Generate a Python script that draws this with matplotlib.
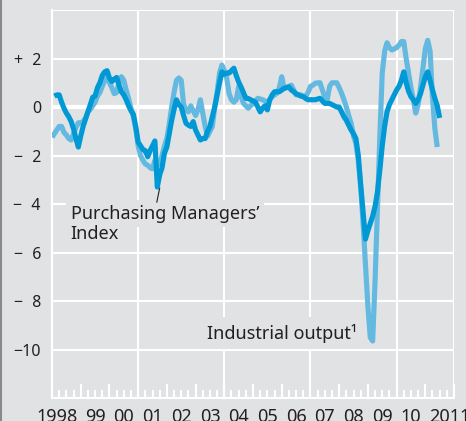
import numpy as np
import matplotlib
matplotlib.use("Agg")
import matplotlib.pyplot as plt
from matplotlib.lines import Line2D
from matplotlib.ticker import MultipleLocator

plt.rcParams['font.family'] = ['Noto Sans', 'DejaVu Sans']

# monthly data, Purchasing Managers' Index starts Feb 1998, industrial output Jan 1998
pmi_start = 1998 + 1 / 12
pmi = [0.45, 0.5, 0.5, 0.2, -0.05, -0.25, -0.4, -0.6, -0.9, -1.3, -1.65,
       -1.2, -0.8, -0.5, -0.2, 0.1, 0.4, 0.45, 0.8, 1.0, 1.3, 1.45, 1.5,
       1.2, 1.05, 1.15, 1.22, 0.9, 0.63, 0.5, 0.3, 0.05, -0.15, -0.3, -0.8,
       -1.45, -1.6, -1.75, -1.8, -2.05, -1.8, -1.6, -1.4, -3.3, -2.8, -2.5, -1.9,
       -1.65, -1.1, -0.55, -0.1, 0.3, 0.1, 0.0, -0.35, -0.67, -0.75, -0.8, -0.6,
       -0.95, -1.15, -1.36, -1.3, -1.3, -1.0, -0.8, -0.4, 0.0, 0.5, 1.0, 1.45,
       1.35, 1.4, 1.4, 1.5, 1.6, 1.3, 1.03, 0.83, 0.6, 0.36, 0.35, 0.3,
       0.25, 0.2, 0.0, -0.2, -0.05, 0.05, -0.12, 0.3, 0.5, 0.63, 0.63, 0.63,
       0.7, 0.77, 0.8, 0.83, 0.7, 0.63, 0.55, 0.5, 0.45, 0.43, 0.35, 0.3,
       0.3, 0.3, 0.3, 0.33, 0.36, 0.25, 0.15, 0.15, 0.15, 0.1, 0.05, 0.0,
       0.0, -0.2, -0.4, -0.55, -0.75, -0.95, -1.1, -1.3, -2.0, -3.2, -4.3, -5.45,
       -5.1, -4.8, -4.5, -4.1, -3.5, -2.6, -1.6, -0.8, -0.2, 0.1, 0.3, 0.5,
       0.7, 0.85, 1.1, 1.45, 1.0, 0.65, 0.43, 0.3, 0.15, 0.3, 0.55, 0.9,
       1.25, 1.45, 1.1, 0.7, 0.35, 0.05, -0.45]

ip_start = 1998.0
ip = [-1.25, -1.1, -0.95, -0.8, -0.8, -1.05, -1.15, -1.3, -1.36, -1.1, -0.85, -0.65,
      -0.65, -0.6, -0.45, -0.2, -0.1, 0.05, 0.2, 0.45, 0.6, 0.85, 1.1, 1.25,
      1.0, 0.8, 0.55, 0.6, 1.0, 1.25, 1.1, 0.7, 0.35, -0.05, -0.4, -0.9,
      -1.6, -2.0, -2.2, -2.35, -2.4, -2.5, -2.55, -2.2, -2.4, -2.3, -2.0, -1.6,
      -1.3, -0.7, 0.0, 0.6, 1.1, 1.2, 1.1, 0.1, -0.1, -0.2, 0.05, -0.15,
      -0.35, -0.1, 0.3, -0.25, -0.8, -1.2, -1.0, -0.8, 0.0, 0.6, 1.4, 1.73,
      1.5, 1.2, 0.55, 0.3, 0.2, 0.3, 0.85, 0.45, 0.15, 0.05, -0.05, 0.05,
      0.15, 0.25, 0.36, 0.33, 0.3, 0.25, 0.2, 0.3, 0.43, 0.5, 0.57, 0.8,
      1.25, 0.77, 0.8, 0.85, 0.9, 0.7, 0.5, 0.5, 0.5, 0.45, 0.43, 0.6,
      0.85, 0.9, 0.98, 1.0, 1.0, 0.7, 0.4, 0.3, 0.85, 1.0, 1.0, 1.0,
      0.8, 0.57, 0.3, 0.0, -0.35, -0.67, -1.2, -1.5, -2.2, -3.3, -4.8, -6.5,
      -8.2, -9.5, -9.65, -7.2, -4.2, -1.2, 1.4, 2.3, 2.65, 2.45, 2.35, 2.4,
      2.45, 2.55, 2.7, 2.7, 2.0, 1.4, 0.8, 0.3, -0.25, 0.1, 0.8, 1.6,
      2.4, 2.75, 2.3, 0.4, -0.9, -1.65]

yticks = [2, 0, -2, -4, -6, -8, -10]
ytick_labels = ['+\u20072', '0', '\u2212\u20072', '\u2212\u20074', '\u2212\u20076',
                '\u2212\u20078', '\u221210']
years = ['1998', '99', '00', '01', '02', '03', '04', '05', '06', '07', '08', '09', '10', '2011']

bg = '#e1e2e4'
light = '#64b9e0'
dark = '#0099d5'
txt = '#231f20'

fig = plt.figure(figsize=(4.66, 4.21), dpi=100, facecolor=bg)
ax = fig.add_axes([0.1116, 0.0546, 0.8627, 0.9216], facecolor=bg)
ax.set_xlim(1998, 2012)
ax.set_ylim(-12, 4)

# grid
for y in [-10, -8, -6, -4, -2, 2, 4]:
    ax.axhline(y, color='white', lw=1.5, zorder=1)
ax.axhline(0, color='white', lw=3, zorder=1)
for x in [2001, 2004, 2007, 2010, 2012]:
    ax.axvline(x, color='white', lw=1.5, zorder=1)

for s in ['top', 'right']:
    ax.spines[s].set_visible(False)
ax.spines['left'].set_color('white')
ax.spines['left'].set_linewidth(1.5)
ax.spines['bottom'].set_color('white')
ax.spines['bottom'].set_linewidth(1.5)

ax.xaxis.set_major_locator(MultipleLocator(1))
ax.xaxis.set_minor_locator(MultipleLocator(0.25))
ax.tick_params(axis='x', which='major', direction='in', length=10, width=1.5,
               color='white', labelbottom=False)
ax.tick_params(axis='x', which='minor', direction='in', length=6, width=1.5,
               color='white')
ax.set_yticks(yticks)
ax.set_yticklabels(ytick_labels)
ax.tick_params(axis='y', length=0, pad=8, labelsize=11.5, labelcolor=txt)

xt = ax.get_xaxis_transform()
for i, lab in enumerate(years):
    if i == 0:
        x, ha = 1998.9, 'right'
    elif i == len(years) - 1:
        x, ha = 2011.15, 'left'
    else:
        x, ha = 1998 + i + 0.5, 'center'
    ax.text(x, -0.027, lab, transform=xt, ha=ha, va='top',
            fontsize=13, color=txt, clip_on=False)

t_ip = ip_start + np.arange(len(ip)) / 12
t_pmi = pmi_start + np.arange(len(pmi)) / 12
ax.plot(t_ip, ip, color=light, lw=3.7, solid_joinstyle='round',
        solid_capstyle='butt', zorder=4)
ax.plot(t_pmi, pmi, color=dark, lw=3.7, solid_joinstyle='round',
        solid_capstyle='butt', zorder=5)

# labels
box = dict(boxstyle='square,pad=0.25', fc=bg, ec='none')
ax.text(1998.65, -4.41, 'Purchasing Managers\u2019', fontsize=13, color=txt,
        va='center', ha='left', bbox=box, zorder=3)
ax.text(1998.65, -5.24, 'Index', fontsize=13, color=txt,
        va='center', ha='left', bbox=box, zorder=3)
ax.plot([2001.65, 2001.75], [-3.92, -3.34], color=txt, lw=0.8, zorder=3)
ax.text(2003.39, -9.32, 'Industrial output\u00b9', fontsize=13, color=txt,
        va='center', ha='left', bbox=dict(boxstyle='square,pad=0.35', fc=bg, ec='none'),
        zorder=3)

fig.add_artist(Line2D([0.002, 0.002], [0, 1], color='#8a8a8a', lw=1.5))

fig.savefig('out.png', dpi=100, facecolor=bg)
